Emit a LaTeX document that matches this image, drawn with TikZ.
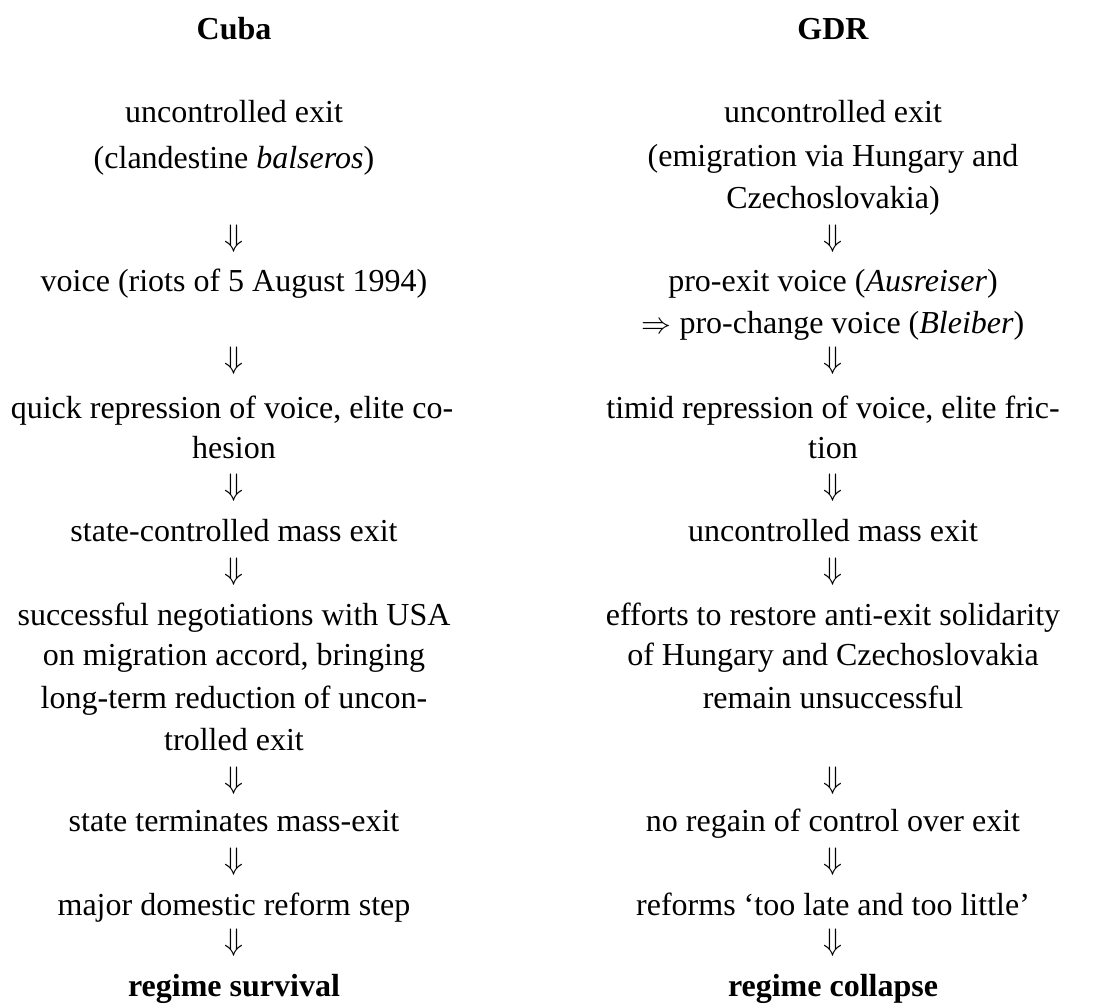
\documentclass[tikz,border=0pt]{standalone}
\usepackage{graphicx}
\usepackage{fontspec}
\setmainfont{Liberation Serif}
\newcommand{\dwn}{\scalebox{1.25}{$\Downarrow$}}
\begin{document}
\begin{tikzpicture}[x=1pt,y=-1pt,
  txt/.style={anchor=base,inner sep=0pt,font=\fontsize{32}{38}\selectfont},
  hd/.style={txt,font=\fontsize{32}{38}\selectfont\bfseries},
  arr/.style={anchor=center,inner sep=0pt,font=\fontsize{29}{35}\selectfont}]
\useasboundingbox (0,0) rectangle (1099,1003);
% Left column: Cuba
\node[hd]  (c0)  at (234,40)  {Cuba};
\node[txt] (c1a) at (234,123) {uncontrolled exit};
\node[txt] (c1b) at (234,168) {(clandestine \textit{balseros})};
\node[arr] (ca1) at (234,239) {\dwn};
\node[txt] (c2)  at (234,291) {voice (riots of 5 August 1994)};
\node[arr] (ca2) at (234,361) {\dwn};
\node[txt] (c3a) at (232,418) {quick repression of voice, elite co-};
\node[txt] (c3b) at (234,458) {hesion};
\node[arr] (ca3) at (234,488) {\dwn};
\node[txt] (c4)  at (234,541) {state-controlled mass exit};
\node[arr] (ca4) at (234,572) {\dwn};
\node[txt] (c5a) at (234,625) {successful negotiations with USA};
\node[txt] (c5b) at (234,665) {on migration accord, bringing};
\node[txt] (c5c) at (234,708) {long-term reduction of uncon-};
\node[txt] (c5d) at (234,750) {trolled exit};
\node[arr] (ca5) at (234,781) {\dwn};
\node[txt] (c6)  at (234,831) {state terminates mass-exit};
\node[arr] (ca6) at (234,862) {\dwn};
\node[txt] (c7)  at (234,915) {major domestic reform step};
\node[arr] (ca7) at (234,943) {\dwn};
\node[hd]  (c8)  at (234,996) {regime survival};
% Right column: GDR
\node[hd]  (g0)  at (833,40)  {GDR};
\node[txt] (g1a) at (833,123) {uncontrolled exit};
\node[txt] (g1b) at (833,167) {(emigration via Hungary and};
\node[txt] (g1c) at (833,208) {Czechoslovakia)};
\node[arr] (ga1) at (833,239) {\dwn};
\node[txt] (g2a) at (833,291) {pro-exit voice (\textit{Ausreiser})};
\node[txt] (g2b) at (833,333) {\scalebox{1.2}{$\Rightarrow$} pro-change voice (\textit{Bleiber})};
\node[arr] (ga2) at (833,361) {\dwn};
\node[txt] (g3a) at (833,418) {timid repression of voice, elite fric-};
\node[txt] (g3b) at (833,458) {tion};
\node[arr] (ga3) at (833,488) {\dwn};
\node[txt] (g4)  at (833,541) {uncontrolled mass exit};
\node[arr] (ga4) at (833,572) {\dwn};
\node[txt] (g5a) at (833,625) {efforts to restore anti-exit solidarity};
\node[txt] (g5b) at (833,665) {of Hungary and Czechoslovakia};
\node[txt] (g5c) at (833,708) {remain unsuccessful};
\node[arr] (ga5) at (833,781) {\dwn};
\node[txt] (g6)  at (833,831) {no regain of control over exit};
\node[arr] (ga6) at (833,862) {\dwn};
\node[txt] (g7)  at (833,915) {reforms `too late and too little'};
\node[arr] (ga7) at (833,943) {\dwn};
\node[hd]  (g8)  at (833,996) {regime collapse};
\end{tikzpicture}
\end{document}
